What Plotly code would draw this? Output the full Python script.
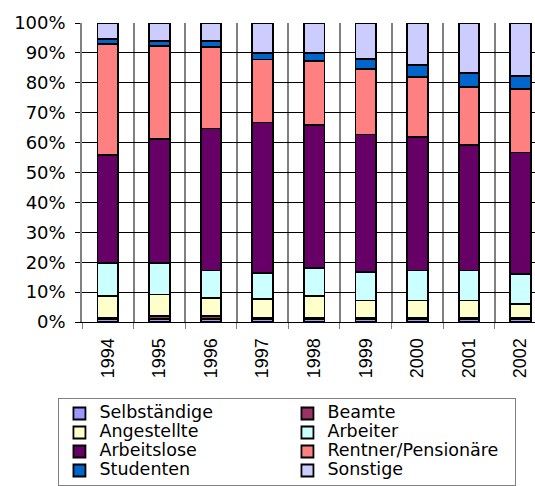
import plotly.graph_objects as go

years = ["1994", "1995", "1996", "1997", "1998", "1999", "2000", "2001", "2002"]
series_names = ["Selbständige", "Beamte", "Angestellte", "Arbeiter",
                "Arbeitslose", "Rentner/Pensionäre", "Studenten", "Sonstige"]
colors = ["#9999FF", "#993366", "#FFFFCC", "#CCFFFF",
          "#660066", "#FF8080", "#0066CC", "#CCCCFF"]

selbstaendige = [1.0, 1.0, 1.0, 1.0, 1.0, 1.0, 1.0, 1.0, 1.0]
beamte        = [0.5, 1.0, 1.0, 0.5, 0.5, 0.5, 0.5, 0.5, 0.5]
angestellte   = [7.1, 7.2, 6.0, 6.3, 7.1, 5.7, 5.7, 5.7, 4.6]
arbeiter      = [11.2, 10.6, 9.2, 8.6, 9.4, 9.5, 10.0, 10.0, 9.9]
arbeitslose   = [36.1, 41.3, 47.5, 50.3, 48.0, 46.0, 44.8, 42.0, 40.7]
rentner       = [37.1, 31.3, 27.2, 21.1, 21.2, 22.0, 20.0, 19.5, 21.3]
studenten     = [1.7, 1.7, 2.0, 2.2, 2.8, 3.3, 4.0, 4.6, 4.4]
sonstige      = [5.3, 5.9, 6.1, 10.0, 10.0, 12.0, 14.0, 16.7, 17.6]

values = [selbstaendige, beamte, angestellte, arbeiter,
          arbeitslose, rentner, studenten, sonstige]

xpos = list(range(len(years)))
totals = [sum(v[i] for v in values) for i in range(len(years))]

fig = go.Figure()
for name, col, vals in zip(series_names, colors, values):
    fig.add_trace(go.Bar(
        x=xpos, y=[vals[i] / totals[i] for i in range(len(years))],
        name='<span style="font-size:17.5px">' + name + '</span>',
        width=0.4,
        marker=dict(color=col, line=dict(color="black", width=1.8)),
    ))

fig.update_layout(
    barmode="stack",
    width=535, height=486,
    margin=dict(l=82, r=0, t=23, b=163),
    plot_bgcolor="white", paper_bgcolor="white",
    showlegend=True,
    legend=dict(
        orientation="h", x=-0.052, y=-0.253, xanchor="left", yanchor="top",
        entrywidth=183, entrywidthmode="pixels",
        font=dict(family="DejaVu Sans", size=12.2, color="black"),
        bordercolor="#808080", borderwidth=1, bgcolor="white",
        traceorder="normal", itemclick=False,
    ),
    font=dict(family="DejaVu Sans", color="black"),
)
fig.update_xaxes(
    range=[-0.5, 8.28],
    tickmode="array", tickvals=xpos, ticktext=years, tickangle=-90,
    tickfont=dict(family="Liberation Sans", size=18, color="black"),
    ticks="", showgrid=False, zeroline=False,
    showline=True, linecolor="black", linewidth=1,
    minor=dict(tick0=0.5, dtick=1, ticks="outside", ticklen=6,
               tickcolor="#808080", showgrid=True, gridcolor="#808080",
               gridwidth=1.5),
    ticklabelstandoff=8,
)
fig.update_yaxes(
    range=[0, 1], dtick=0.1, tickformat=".0%",
    tickfont=dict(family="DejaVu Sans", size=18, color="black"),
    ticks="outside", ticklen=5, tickcolor="black",
    showgrid=True, gridcolor="black", gridwidth=1,
    zeroline=False, showline=True, linecolor="#808080", linewidth=1.5,
    ticklabelstandoff=6,
)

fig.write_html("out.html")
